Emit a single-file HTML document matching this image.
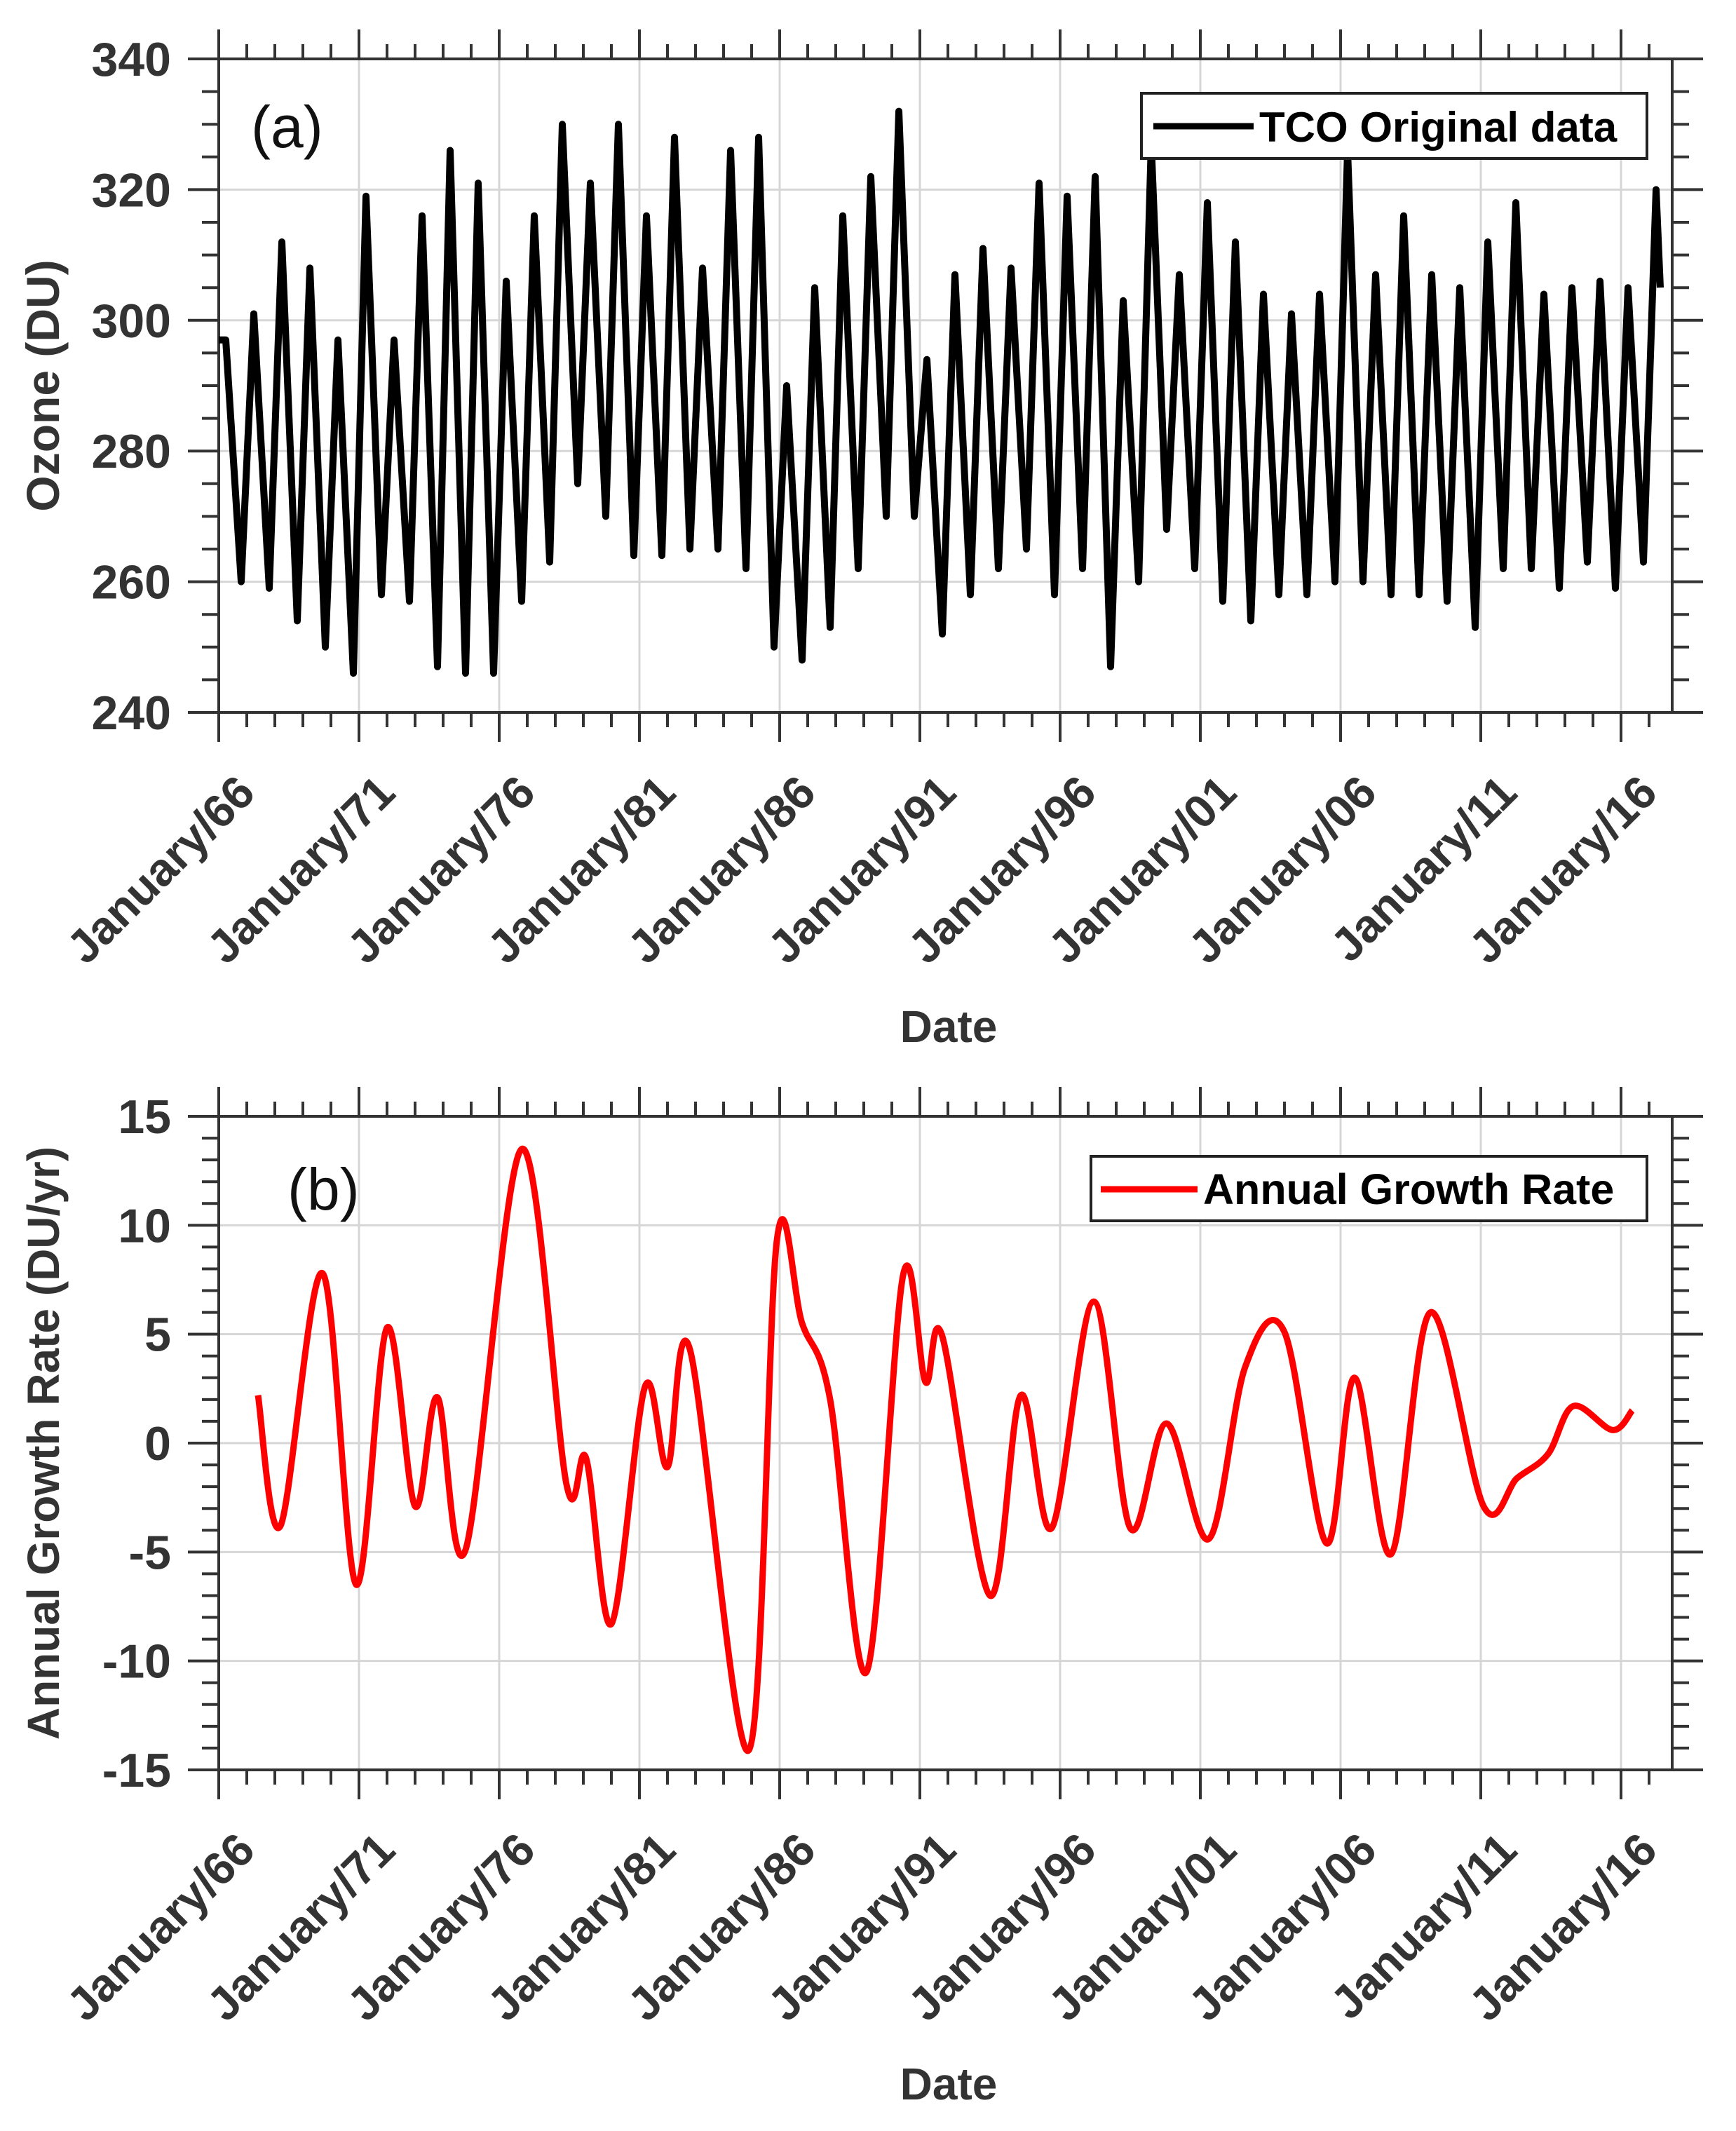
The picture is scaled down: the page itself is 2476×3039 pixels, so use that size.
<!DOCTYPE html>
<html><head><meta charset="utf-8"><style>
html,body{margin:0;padding:0;background:#fff}
svg{display:block}
text{font-family:"Liberation Sans",Arial,sans-serif}
</style></head><body>
<svg id="fig" width="2476" height="3039" viewBox="0 0 2476 3039" xmlns="http://www.w3.org/2000/svg">
<g id="pa"></g>
<g id="pb"></g>
</svg>
<script>
// Panel (a) TCO data: yearly seasonal peaks and troughs (DU)
const tcoYears = [1966,1967,1968,1969,1970,1971,1972,1973,1974,1975,1976,1977,1978,1979,1980,1981,1982,1983,1984,1985,1986,1987,1988,1989,1990,1991,1992,1993,1994,1995,1996,1997,1998,1999,2000,2001,2002,2003,2004,2005,2006,2007,2008,2009,2010,2011,2012,2013,2014,2015,2016,2017];
const tcoPeaks = [297,301,312,308,297,319,297,316,326,321,306,316,330,321,330,316,328,308,326,328,290,305,316,322,332,294,307,311,308,321,319,322,303,327,307,318,312,304,301,304,326,307,316,307,305,312,318,304,305,306,305,320];
const tcoTroughs = [260,259,254,250,246,258,257,247,246,246,257,263,275,270,264,264,265,265,262,250,248,253,262,270,270,252,258,262,265,258,262,247,260,268,262,257,254,258,258,260,260,258,258,257,253,262,262,259,263,259,263,305];
const yTicksA = [240,260,280,300,320,340];
// Panel (b) annual growth rate extrema (year, DU/yr)
const agrYears = [1967.4,1968.2,1969.7,1970.9,1972.0,1973.0,1973.8,1974.8,1976.8,1978.4,1979.1,1980.0,1981.2,1982.0,1982.8,1984.9,1985.9,1986.8,1987.8,1989.1,1990.4,1991.2,1991.8,1993.5,1994.6,1995.7,1997.2,1998.5,1999.8,2001.3,2002.6,2004.0,2005.5,2006.5,2007.8,2009.2,2011.1,2012.3,2013.4,2014.3,2015.7,2016.4];
const agrValues = [2.2,-3.8,7.8,-6.5,5.3,-2.9,2.1,-4.9,13.5,-1.9,-0.7,-8.3,2.6,-1.1,4.3,-14.1,9.3,5.5,2.0,-10.5,7.7,2.8,4.9,-7.0,2.2,-3.9,6.5,-3.9,0.9,-4.4,3.5,5.1,-4.6,3.0,-5.1,6.0,-2.9,-1.6,-0.5,1.7,0.6,1.5];
const yTicksB = [-15,-10,-5,0,5,10,15];
const xTickYears = [1966,1971,1976,1981,1986,1991,1996,2001,2006,2011,2016];
const xTickLabels = ["January/66","January/71","January/76","January/81","January/86","January/91","January/96","January/01","January/06","January/11","January/16"];

const NS="http://www.w3.org/2000/svg";
function mk(parent,tag,attrs,txt){const e=document.createElementNS(NS,tag);for(const k in attrs)e.setAttribute(k,attrs[k]);if(txt!==undefined)e.textContent=txt;parent.appendChild(e);return e;}
const X0=312,X1=2385;
function xs(y){return X0+(y-1966)*40;}

function panel(g,top,bot,ymin,ymax,yTicks,minorStep,ytitle,ytitleX,ytitleSize,letter,letterY){
  const ys=v=>bot-(v-ymin)/(ymax-ymin)*(bot-top);
  xTickYears.forEach(yr=>{const l=mk(g,'line',{x1:xs(yr),x2:xs(yr),y1:top,y2:bot,stroke:'#d6d6d6','stroke-width':3});
    
    });
  yTicks.forEach(v=>{const l=mk(g,'line',{x1:X0,x2:X1,y1:ys(v),y2:ys(v),stroke:'#d6d6d6','stroke-width':3});
    
    });
  const fr=mk(g,'rect',{x:X0,y:top,width:X1-X0,height:bot-top,fill:'none',stroke:'#333','stroke-width':4});
  
  
  for(let yr=1966;yr<=2017;yr++){const maj=(yr-1966)%5===0;const L=maj?42:21;const x=xs(yr);
    mk(g,'line',{x1:x,x2:x,y1:top,y2:top-L,stroke:'#333','stroke-width':4});
    mk(g,'line',{x1:x,x2:x,y1:bot,y2:bot+L,stroke:'#333','stroke-width':4});}
  for(let v=ymin;v<=ymax+1e-9;v+=minorStep){const maj=yTicks.some(t=>Math.abs(t-v)<1e-6);const L=maj?44:24;const y=ys(v);
    mk(g,'line',{x1:X0,x2:X0-L,y1:y,y2:y,stroke:'#333','stroke-width':4});
    mk(g,'line',{x1:X1,x2:X1+L,y1:y,y2:y,stroke:'#333','stroke-width':4});}
  yTicks.forEach(v=>{const t=mk(g,'text',{x:244,y:ys(v)+24,'text-anchor':'end','font-size':68,'font-weight':'bold',fill:'#333'},String(v));
    
    });
  xTickYears.forEach((yr,i)=>{const ax=xs(yr)+55,ay=bot+118;
    const t=mk(g,'text',{x:ax,y:ay,'text-anchor':'end','font-size':66,'font-weight':'bold',fill:'#333',transform:`rotate(-45 ${ax} ${ay})`},xTickLabels[i]);
    
    });
  const yt=mk(g,'text',{x:ytitleX,y:(top+bot)/2,'text-anchor':'middle','font-size':ytitleSize,'font-weight':'bold',fill:'#333',transform:`rotate(-90 ${ytitleX} ${(top+bot)/2})`},ytitle);
  
  
  const dt=mk(g,'text',{x:1353,y:bot+470,'text-anchor':'middle','font-size':64,'font-weight':'bold',fill:'#333'},'Date');
  
  
  const lt=mk(g,'text',{x:letter,y:letterY,'font-size':84,fill:'#111'},g.id==='pa'?'(a)':'(b)');
  
  
  return ys;
}

const ga=document.getElementById('pa');
const ysA=panel(ga,84,1016,240,340,yTicksA,5,'Ozone (DU)',84,66,358,210);
let pts=[];
tcoYears.forEach((yr,i)=>{
  if(yr<2017){pts.push([xs(yr+0.25),ysA(tcoPeaks[i])]);pts.push([xs(yr+0.8),ysA(tcoTroughs[i])]);}
  else{pts.push([xs(yr+0.25),ysA(tcoPeaks[i])]);pts.push([xs(yr+0.4),ysA(tcoTroughs[i])]);}
});
pts.unshift([xs(1966),ysA(tcoPeaks[0])]);
const la=mk(ga,'polyline',{points:pts.map(p=>p[0].toFixed(1)+','+p[1].toFixed(1)).join(' '),fill:'none',stroke:'#000','stroke-width':10,'stroke-linejoin':'round'});


const lga=mk(ga,'g',{});


mk(lga,'rect',{x:1628,y:133,width:721,height:93,fill:'#fff',stroke:'#222','stroke-width':4});
mk(lga,'line',{x1:1645,x2:1788,y1:180,y2:180,stroke:'#000','stroke-width':9});
mk(lga,'text',{x:1796,y:202,'font-size':60,'font-weight':'bold',fill:'#000'},'TCO Original data');

const gb=document.getElementById('pb');
const ysB=panel(gb,1592,2524,-15,15,yTicksB,1,'Annual Growth Rate (DU/yr)',84,64,410,1725);
const P=agrYears.map((yr,i)=>[xs(yr),ysB(agrValues[i])]);
let d='M'+P[0][0].toFixed(1)+','+P[0][1].toFixed(1);
for(let i=0;i<P.length-1;i++){
  const p0=P[Math.max(0,i-1)],p1=P[i],p2=P[i+1],p3=P[Math.min(P.length-1,i+2)];
  let c1=[p1[0]+(p2[0]-p0[0])/6,p1[1]+(p2[1]-p0[1])/6];
  let c2=[p2[0]-(p3[0]-p1[0])/6,p2[1]-(p3[1]-p1[1])/6];
  d+=` C${c1[0].toFixed(1)},${c1[1].toFixed(1)} ${c2[0].toFixed(1)},${c2[1].toFixed(1)} ${p2[0].toFixed(1)},${p2[1].toFixed(1)}`;
}
const lb=mk(gb,'path',{d:d,fill:'none',stroke:'#ff0000','stroke-width':9,'stroke-linejoin':'round'});


const lgb=mk(gb,'g',{});


mk(lgb,'rect',{x:1556,y:1649,width:793,height:92,fill:'#fff',stroke:'#222','stroke-width':4});
mk(lgb,'line',{x1:1570,x2:1708,y1:1696,y2:1696,stroke:'#ff0000','stroke-width':9});
mk(lgb,'text',{x:1716,y:1717,'font-size':61,'font-weight':'bold',fill:'#000'},'Annual Growth Rate');
</script>
</body></html>
